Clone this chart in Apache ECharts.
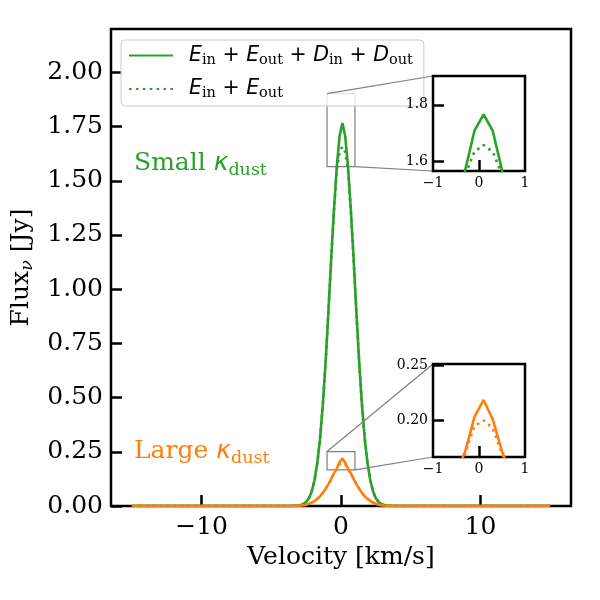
<!DOCTYPE html>
<html>
<head>
<meta charset="utf-8">
<script src="https://cdn.jsdelivr.net/npm/echarts@6/dist/echarts.min.js"></script>
<style>
  html, body { margin: 0; padding: 0; background: #fff; }
  #main { width: 600px; height: 600px; }
</style>
</head>
<body>
<div id="main"></div>
<script>
// Velocity channels [km/s] (flat zero baseline outside the line)
const velocity = [-15, -3.5, -3.3, -3.1, -2.9, -2.7, -2.5, -2.3, -2.1, -1.9, -1.7, -1.5, -1.3, -1.1, -0.9, -0.7, -0.5, -0.3, -0.1,
  0.1, 0.3, 0.5, 0.7, 0.9, 1.1, 1.3, 1.5, 1.7, 1.9, 2.1, 2.3, 2.5, 2.7, 2.9, 3.1, 3.3, 3.5, 3.7, 15];

// Small kappa_dust: E_in + E_out + D_in + D_out (solid) and E_in + E_out (dotted)
const smallFull = [0, 0, 0.001, 0.002, 0.004, 0.009, 0.018, 0.036, 0.067, 0.119, 0.198, 0.313, 0.470, 0.667, 0.899, 1.146, 1.372, 1.568, 1.707,
  1.766, 1.707, 1.568, 1.372, 1.146, 0.899, 0.667, 0.470, 0.313, 0.198, 0.119, 0.067, 0.036, 0.018, 0.009, 0.004, 0.002, 0.001, 0, 0];
const smallEmission = [0, 0, 0.001, 0.002, 0.004, 0.009, 0.018, 0.036, 0.067, 0.119, 0.198, 0.313, 0.470, 0.667, 0.899, 1.143, 1.366, 1.552, 1.633,
  1.657, 1.633, 1.552, 1.366, 1.143, 0.899, 0.667, 0.470, 0.313, 0.198, 0.119, 0.067, 0.036, 0.018, 0.009, 0.004, 0.002, 0.001, 0, 0];

// Large kappa_dust
const largeFull = [0, 0, 0, 0.001, 0.002, 0.004, 0.006, 0.010, 0.016, 0.023, 0.033, 0.045, 0.061, 0.080, 0.101, 0.125, 0.152, 0.172, 0.203,
  0.2185, 0.201, 0.172, 0.152, 0.125, 0.101, 0.080, 0.061, 0.045, 0.033, 0.023, 0.016, 0.010, 0.006, 0.004, 0.002, 0.001, 0, 0, 0];
const largeEmission = [0, 0, 0, 0.001, 0.002, 0.004, 0.006, 0.010, 0.016, 0.023, 0.033, 0.045, 0.061, 0.080, 0.101, 0.125, 0.151, 0.170, 0.195,
  0.200, 0.193, 0.170, 0.151, 0.125, 0.101, 0.080, 0.061, 0.045, 0.033, 0.023, 0.016, 0.010, 0.006, 0.004, 0.002, 0.001, 0, 0, 0];

// Tick labels
const xTicks = [-10, 0, 10];
const yTicks = [0, 0.25, 0.5, 0.75, 1.0, 1.25, 1.5, 1.75, 2.0];
const insetXTicks = [-1, 0, 1];
const smallInsetYTicks = [1.6, 1.8];
const largeInsetYTicks = [0.2, 0.25];

// Inset windows (data ranges)
const insetXRange = [-1, 1];
const smallInsetYRange = [1.565, 1.902];
const largeInsetYRange = [0.167, 0.251];

const GREEN = "#2ca02c";
const ORANGE = "#ff7f0e";
const SERIF = "DejaVu Serif";

const pairs = (ys) => velocity.map((v, i) => [v, ys[i]]);
const minus = (v) => (v < 0 ? "\u2212" + Math.abs(v) : String(v));

function lineSeries(name, ys, color, dotted, grid, extra) {
  return Object.assign({
    name: name,
    type: "line",
    xAxisIndex: grid,
    yAxisIndex: grid,
    data: pairs(ys),
    symbol: "none",
    showSymbol: false,
    smooth: false,
    silent: true,
    animation: false,
    lineStyle: {
      color: color,
      width: 2.6,
      type: dotted ? [2.6, 4.3] : "solid",
      cap: "butt",
    },
    itemStyle: { color: color },
  }, extra || {});
}

function insetAxes(grid, yRange, yTickVals, digits) {
  return {
    x: {
      type: "value", gridIndex: grid, min: insetXRange[0], max: insetXRange[1], z: 6,
      axisLine: { show: false, onZero: false },
      splitLine: { show: false },
      axisTick: { inside: true, length: 11, customValues: [0], lineStyle: { color: "#000", width: 2.5 } },
      axisLabel: { customValues: insetXTicks, fontFamily: SERIF, fontSize: 14, color: "#000", margin: 5, formatter: minus },
    },
    y: {
      type: "value", gridIndex: grid, min: yRange[0], max: yRange[1], z: 6,
      axisLine: { show: false, onZero: false },
      splitLine: { show: false },
      axisTick: { inside: true, length: 11, customValues: yTickVals, lineStyle: { color: "#000", width: 2.5 } },
      axisLabel: { customValues: yTickVals, fontFamily: SERIF, fontSize: 14, color: "#000", margin: 5,
        formatter: (v) => v.toFixed(digits) },
    },
  };
}

const inset1 = insetAxes(1, smallInsetYRange, smallInsetYTicks, 1);
const inset2 = insetAxes(2, largeInsetYRange, largeInsetYTicks, 2);

const rectStyle = { color: "rgba(0,0,0,0)", borderColor: "#808080", borderWidth: 1.2 };

const chart = echarts.init(document.getElementById("main"), null, { renderer: "canvas" });
chart.setOption({
  animation: false,
  backgroundColor: "#fff",
  grid: [
    { left: 111, top: 29, width: 460, height: 477, outerBoundsMode: "none", containLabel: false,
      show: true, borderColor: "#000", borderWidth: 2.5, backgroundColor: "rgba(0,0,0,0)" },
    { left: 433, top: 76, width: 92, height: 95, outerBoundsMode: "none", containLabel: false,
      show: true, borderColor: "#000", borderWidth: 2.5, backgroundColor: "#fff", z: 5 },
    { left: 433, top: 364, width: 92, height: 93, outerBoundsMode: "none", containLabel: false,
      show: true, borderColor: "#000", borderWidth: 2.5, backgroundColor: "#fff", z: 5 },
  ],
  xAxis: [
    {
      type: "value", gridIndex: 0, min: -16.5, max: 16.5,
      axisLine: { show: false, onZero: false },
      splitLine: { show: false },
      axisTick: { inside: true, length: 11, customValues: xTicks, lineStyle: { color: "#000", width: 2.5 } },
      axisLabel: { customValues: xTicks, fontFamily: SERIF, fontSize: 25, color: "#000", margin: 9, formatter: minus },
      name: "Velocity [km/s]",
      nameLocation: "middle",
      nameGap: 37,
      nameTextStyle: { fontFamily: SERIF, fontSize: 25, color: "#000" },
    },
    inset1.x,
    inset2.x,
  ],
  yAxis: [
    {
      type: "value", gridIndex: 0, min: 0, max: 2.2,
      axisLine: { show: false, onZero: false },
      splitLine: { show: false },
      axisTick: { inside: true, length: 11, customValues: yTicks, lineStyle: { color: "#000", width: 2.5 } },
      axisLabel: { customValues: yTicks, fontFamily: SERIF, fontSize: 25, color: "#000", margin: 8,
        formatter: (v) => v.toFixed(2) },
      name: "{r|Flux}{s|\u03bd}{r| [Jy]}",
      nameLocation: "middle",
      nameGap: 66,
      nameTextStyle: {
        color: "#000",
        rich: {
          r: { fontFamily: SERIF, fontSize: 25, lineHeight: 30, color: "#000" },
          s: { fontFamily: SERIF, fontStyle: "italic", fontSize: 17.5, lineHeight: 18, verticalAlign: "bottom", color: "#000" },
        },
      },
    },
    inset1.y,
    inset2.y,
  ],
  legend: {
    data: ["full", "emission"],
    orient: "vertical",
    left: 121,
    top: 40,
    padding: [5, 11, 5, 7],
    itemGap: 11,
    itemWidth: 44,
    itemHeight: 26,
    itemStyle: { opacity: 0 },
    backgroundColor: "rgba(255,255,255,0.8)",
    borderColor: "#cccccc",
    borderWidth: 1,
    borderRadius: 4,
    z: 4,
    formatter: (name) => name === "full"
      ? "{m|E}{s|in}{p| + }{m|E}{s|out}{p| + }{m|D}{s|in}{p| + }{m|D}{s|out}"
      : "{m|E}{s|in}{p| + }{m|E}{s|out}",
    textStyle: {
      padding: [0, 0, 0, 11],
      rich: {
        m: { fontFamily: "DejaVu Sans", fontStyle: "italic", fontSize: 20.5, lineHeight: 24, color: "#000" },
        p: { fontFamily: "DejaVu Sans", fontSize: 20.5, lineHeight: 24, color: "#000" },
        s: { fontFamily: SERIF, fontSize: 14.5, lineHeight: 15, verticalAlign: "bottom", color: "#000" },
      },
    },
  },
  series: [
    lineSeries("full", smallFull, GREEN, false, 0, {
      markArea: { silent: true, itemStyle: rectStyle, data: [
        [{ xAxis: insetXRange[0], yAxis: smallInsetYRange[0] }, { xAxis: insetXRange[1], yAxis: smallInsetYRange[1] }],
        [{ xAxis: insetXRange[0], yAxis: largeInsetYRange[0] }, { xAxis: insetXRange[1], yAxis: largeInsetYRange[1] }],
      ] },
    }),
    lineSeries("emission", smallEmission, GREEN, true, 0),
    lineSeries("largeFull", largeFull, ORANGE, false, 0),
    lineSeries("largeEmission", largeEmission, ORANGE, true, 0),
    lineSeries("inset1Full", smallFull, GREEN, false, 1, { z: 6 }),
    lineSeries("inset1Emission", smallEmission, GREEN, true, 1, { z: 6 }),
    lineSeries("inset2Full", largeFull, ORANGE, false, 2, { z: 6 }),
    lineSeries("inset2Emission", largeEmission, ORANGE, true, 2, { z: 6 }),
  ],
});

// Connector lines between zoom rectangles and insets, placed through the axes' own scales
function connectors(insetGrid, yRange) {
  const a1 = chart.convertToPixel({ gridIndex: 0 }, [insetXRange[0], yRange[1]]);
  const b1 = chart.convertToPixel({ gridIndex: insetGrid }, [insetXRange[0], yRange[1]]);
  const a2 = chart.convertToPixel({ gridIndex: 0 }, [insetXRange[1], yRange[0]]);
  const b2 = chart.convertToPixel({ gridIndex: insetGrid }, [insetXRange[0], yRange[0]]);
  return [[a1, b1], [a2, b2]].map(([p, q]) => ({
    type: "line",
    z: 4,
    silent: true,
    shape: { x1: p[0], y1: p[1], x2: q[0], y2: q[1] },
    style: { stroke: "#808080", lineWidth: 1.2 },
  }));
}

const annot = (label, color, y) => ({
  type: "text",
  left: 134,
  top: y,
  z: 10,
  style: {
    text: "{r|" + label + " }{k|\u03ba}{s|dust}",
    fill: color,
    rich: {
      r: { fontFamily: SERIF, fontSize: 25, lineHeight: 32, fill: color },
      k: { fontFamily: "DejaVu Sans", fontStyle: "italic", fontSize: 25, lineHeight: 32, fill: color },
      s: { fontFamily: SERIF, fontSize: 17.5, lineHeight: 20, verticalAlign: "bottom", fill: color },
    },
  },
});

chart.setOption({
  graphic: [
    ...connectors(1, smallInsetYRange),
    ...connectors(2, largeInsetYRange),
    annot("Small", GREEN, 151),
    annot("Large", ORANGE, 439),
  ],
});
</script>
</body>
</html>
